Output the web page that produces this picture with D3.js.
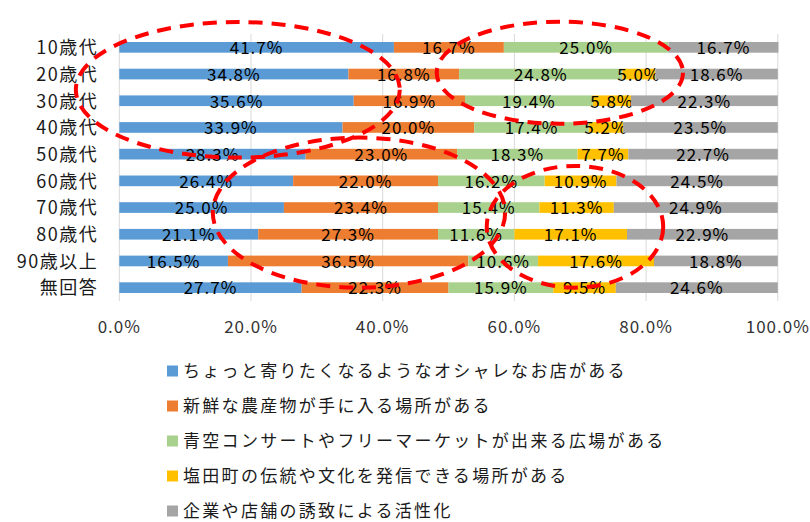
<!DOCTYPE html>
<html>
<head>
<meta charset="utf-8">
<script src="https://cdn.jsdelivr.net/npm/d3@7"></script>
<style>
  body { margin: 0; background: #fff; }
  svg { display: block; font-family: "Noto Sans CJK JP", "Noto Sans", sans-serif; }
</style>
</head>
<body>
<svg id="chart"></svg>
<script>
// Age groups (rows, top to bottom)
const categories = ["10歳代", "20歳代", "30歳代", "40歳代", "50歳代", "60歳代", "70歳代", "80歳代", "90歳以上", "無回答"];

// Answer options (legend order)
const seriesNames = [
  "ちょっと寄りたくなるようなオシャレなお店がある",
  "新鮮な農産物が手に入る場所がある",
  "青空コンサートやフリーマーケットが出来る広場がある",
  "塩田町の伝統や文化を発信できる場所がある",
  "企業や店舗の誘致による活性化"
];

// Percent values per series, one per age group
const shopValues     = [41.7, 34.8, 35.6, 33.9, 28.3, 26.4, 25.0, 21.1, 16.5, 27.7];
const produceValues  = [16.7, 16.8, 16.9, 20.0, 23.0, 22.0, 23.4, 27.3, 36.5, 22.3];
const plazaValues    = [25.0, 24.8, 19.4, 17.4, 18.3, 16.2, 15.4, 11.6, 10.6, 15.9];
const cultureValues  = [0.0, 5.0, 5.8, 5.2, 7.7, 10.9, 11.3, 17.1, 17.6, 9.5];
const businessValues = [16.7, 18.6, 22.3, 23.5, 22.7, 24.5, 24.9, 22.9, 18.8, 24.6];

const xTicks = [0, 20, 40, 60, 80, 100];

// Red dashed annotation rings: centre in percent / row index, radii in percent / rows
const ringCx = [18.0, 36.4, 69.2, 66.9];
const ringCy = [1.59, 6.19, 6.72, 0.95];
const ringRx = [24.6, 22.2, 13.4, 18.7];
const ringRy = [2.54, 2.81, 2.28, 1.91];

const colors = ["#5B9BD5", "#ED7D31", "#A9D18E", "#FFC000", "#A5A5A5"];

const width = 810;
const height = 522;
const margin = { top: 34, right: 32, bottom: 221, left: 119.3 };

const svg = d3.select("#chart").attr("width", width).attr("height", height);

const seriesValues = [shopValues, produceValues, plazaValues, cultureValues, businessValues];

const table = categories.map((c, i) => {
  const row = { category: c };
  seriesNames.forEach((s, j) => { row[s] = seriesValues[j][i]; });
  return row;
});

const stacked = d3.stack().keys(seriesNames)(table);

const x = d3.scaleLinear()
  .domain([0, 100])
  .range([margin.left, margin.left + 658.5]);

const y = d3.scaleBand()
  .domain(categories)
  .range([margin.top, height - margin.bottom])
  .paddingInner(0.6)
  .paddingOuter(0.3);

// Gridlines
svg.append("g")
  .selectAll("line")
  .data(xTicks)
  .enter()
  .append("line")
  .attr("x1", d => x(d))
  .attr("x2", d => x(d))
  .attr("y1", y.range()[0])
  .attr("y2", y.range()[1])
  .attr("stroke", "#D9D9D9")
  .attr("stroke-width", 1);

// Bars
const layers = svg.append("g")
  .selectAll("g")
  .data(stacked)
  .enter()
  .append("g")
  .attr("fill", (d, i) => colors[i]);

layers.selectAll("rect")
  .data(d => d)
  .enter()
  .append("rect")
  .attr("x", d => x(d[0]))
  .attr("width", d => x(d[1]) - x(d[0]))
  .attr("y", d => y(d.data.category))
  .attr("height", y.bandwidth());

// Value labels
layers.selectAll("text")
  .data(d => d.filter(p => p[1] - p[0] > 0))
  .enter()
  .append("text")
  .attr("x", d => (x(d[0]) + x(d[1])) / 2)
  .attr("y", d => y(d.data.category) + y.bandwidth() / 2)
  .attr("dy", "0.4em")
  .attr("text-anchor", "middle")
  .attr("fill", "#000")
  .style("font-size", "17px")
  .style("letter-spacing", "1px")
  .text(d => d3.format(".1f")(d[1] - d[0]) + "%");

// Category labels
svg.append("g")
  .selectAll("text")
  .data(categories)
  .enter()
  .append("text")
  .attr("x", margin.left - 21)
  .attr("y", d => y(d) + y.bandwidth() / 2)
  .attr("dy", "0.38em")
  .attr("text-anchor", "end")
  .attr("fill", "#1a1a1a")
  .style("font-size", "18px")
  .style("letter-spacing", "1.5px")
  .text(d => d);

// X tick labels
svg.append("g")
  .selectAll("text")
  .data(xTicks)
  .enter()
  .append("text")
  .attr("x", d => x(d))
  .attr("y", 333)
  .attr("text-anchor", "middle")
  .attr("fill", "#333")
  .style("font-size", "17px")
  .style("letter-spacing", "1px")
  .text(d => d3.format(".1f")(d) + "%");

// Annotation rings
const row = d3.scaleLinear()
  .domain([0, categories.length - 1])
  .range([y(categories[0]) + y.bandwidth() / 2, y(categories[categories.length - 1]) + y.bandwidth() / 2]);
const rowStep = row(1) - row(0);

svg.append("g")
  .selectAll("ellipse")
  .data(ringCx)
  .enter()
  .append("ellipse")
  .attr("cx", d => x(d))
  .attr("cy", (d, i) => row(ringCy[i]))
  .attr("rx", (d, i) => x(ringRx[i]) - x(0))
  .attr("ry", (d, i) => ringRy[i] * rowStep)
  .attr("fill", "none")
  .attr("stroke", "#FF0000")
  .attr("stroke-width", 4)
  .attr("stroke-dasharray", "14 9");

// Legend
const legend = svg.append("g")
  .selectAll("g")
  .data(seriesNames)
  .enter()
  .append("g")
  .attr("transform", (d, i) => `translate(167, ${371 + i * 35})`);

legend.append("rect")
  .attr("x", 0)
  .attr("y", -5.5)
  .attr("width", 11)
  .attr("height", 11)
  .attr("fill", (d, i) => colors[i]);

legend.append("text")
  .attr("x", 16)
  .attr("y", 0)
  .attr("dy", "0.36em")
  .attr("fill", "#1a1a1a")
  .style("font-size", "17px")
  .style("letter-spacing", "2.3px")
  .text(d => d);
</script>
</body>
</html>
